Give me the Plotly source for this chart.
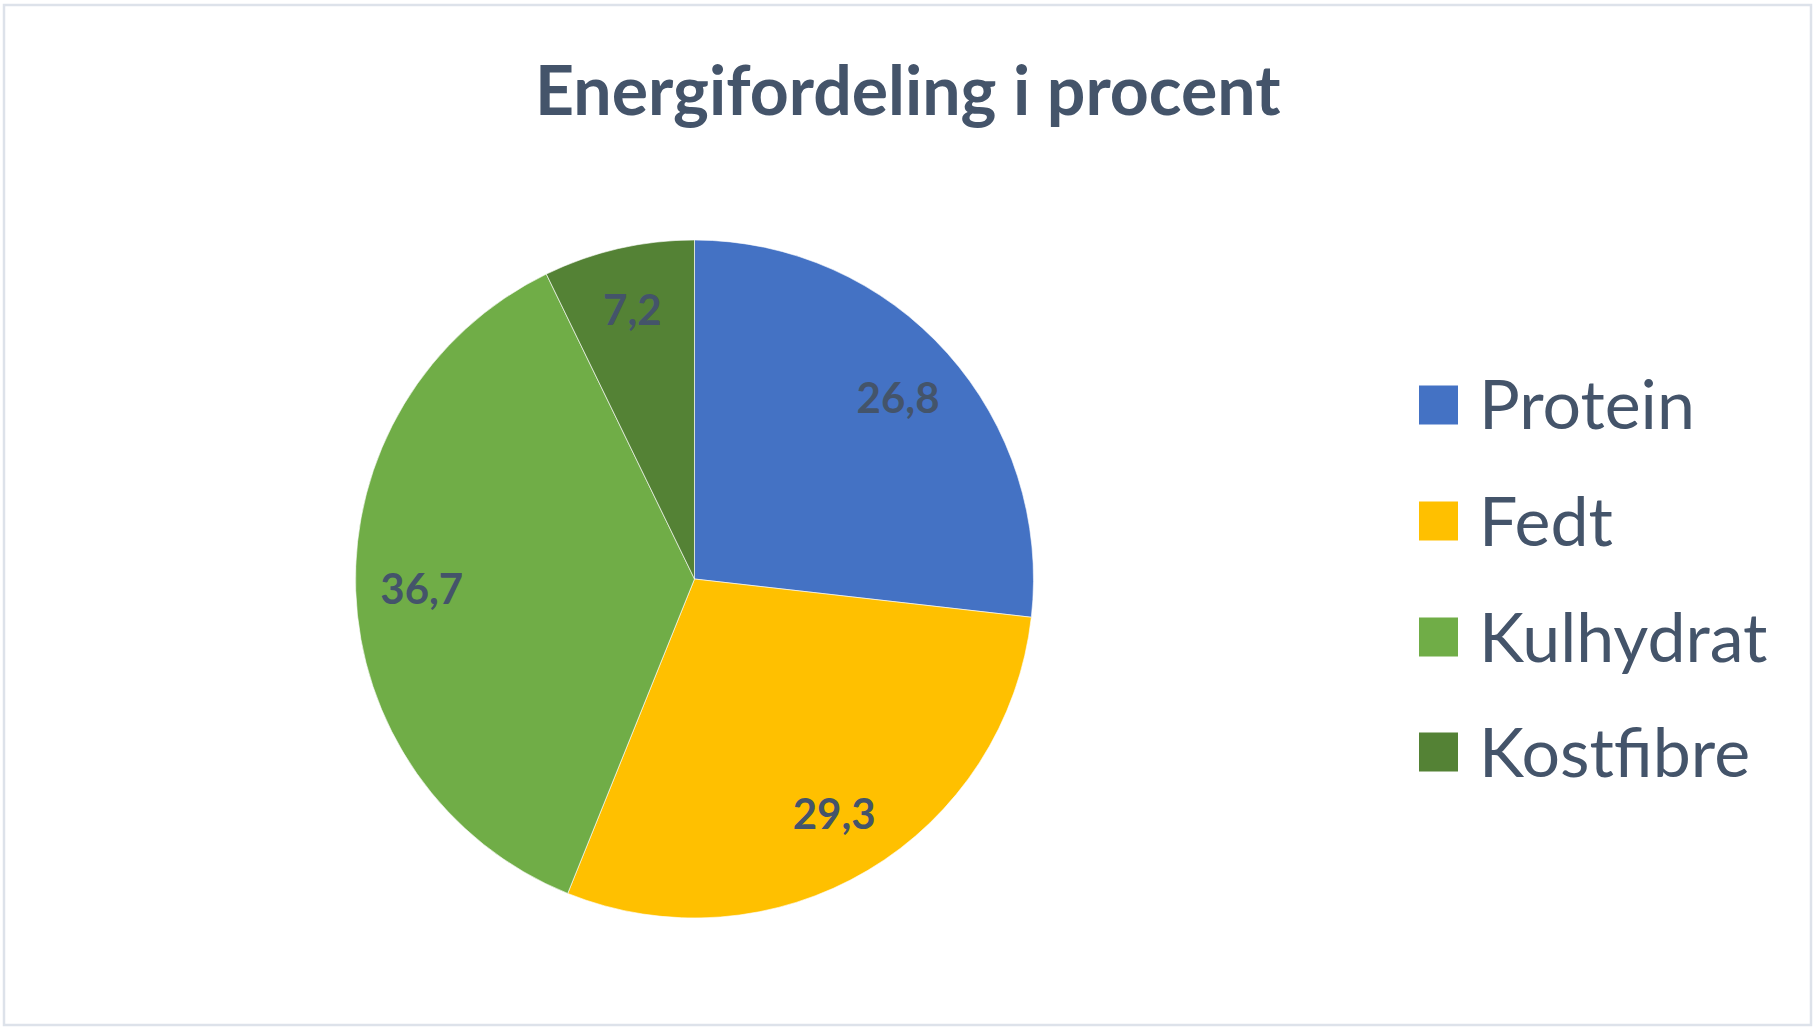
import plotly.graph_objects as go

categories = ["Protein", "Fedt", "Kulhydrat", "Kostfibre"]
values = [26.8, 29.3, 36.7, 7.2]
colors = ["#4472C4", "#FFC000", "#70AD47", "#548235"]
title_text = "Energifordeling i procent"

W, H = 1815, 1031
text_color = "#44546A"
font_family = "Lato, 'Open Sans', sans-serif"

pie_domain = dict(x=[(694.5 - 339) / W, (694.5 + 339) / W],
                  y=[(H - 579 - 339) / H, (H - 579 + 339) / H])

fig = go.Figure()
# slices
fig.add_trace(go.Pie(
    labels=categories,
    values=values,
    sort=False,
    direction="clockwise",
    rotation=0,
    marker=dict(colors=colors, line=dict(color="rgba(255,255,255,0.6)", width=1)),
    textinfo="none",
    domain=pie_domain,
    showlegend=False,
    hoverinfo="label+value",
))
# data labels, placed by plotly in an outer ring of the same pie
fig.add_trace(go.Pie(
    labels=categories,
    values=values,
    sort=False,
    direction="clockwise",
    rotation=0,
    hole=0.61,
    marker=dict(colors=["rgba(0,0,0,0)"] * len(values), line=dict(width=0)),
    texttemplate="%{value:.1f}",
    textposition="inside",
    insidetextorientation="horizontal",
    textfont=dict(family=font_family, size=42, color=text_color, weight="bold"),
    domain=pie_domain,
    showlegend=False,
    hoverinfo="skip",
))

shapes = [dict(type="rect", xref="paper", yref="paper",
               x0=4 / W, x1=(W - 4) / W, y0=6 / H, y1=(H - 5) / H,
               line=dict(color="#DDE2EA", width=2.5), fillcolor="rgba(0,0,0,0)")]
annotations = [dict(text=title_text, x=0.5, y=(H - 88) / H,
                    xref="paper", yref="paper", showarrow=False,
                    xanchor="center", yanchor="middle",
                    font=dict(family=font_family, size=68, color=text_color, weight="bold"))]

legend_y = [405, 521, 637, 752]
sq = 39
for name, col, yc in zip(categories, colors, legend_y):
    shapes.append(dict(type="rect", xref="paper", yref="paper",
                       x0=1419 / W, x1=(1419 + sq) / W,
                       y0=(H - yc - sq / 2) / H, y1=(H - yc + sq / 2) / H,
                       line=dict(width=0), fillcolor=col))
    annotations.append(dict(text=name, x=1477 / W, y=(H - yc + 2) / H,
                            xref="paper", yref="paper", showarrow=False,
                            xanchor="left", yanchor="middle",
                            font=dict(family=font_family, size=68, color=text_color)))

fig.update_layout(
    width=W, height=H,
    margin=dict(l=0, r=0, t=0, b=0),
    paper_bgcolor="white",
    plot_bgcolor="white",
    separators=",.",
    shapes=shapes,
    annotations=annotations,
)

fig.write_html("out.html")
